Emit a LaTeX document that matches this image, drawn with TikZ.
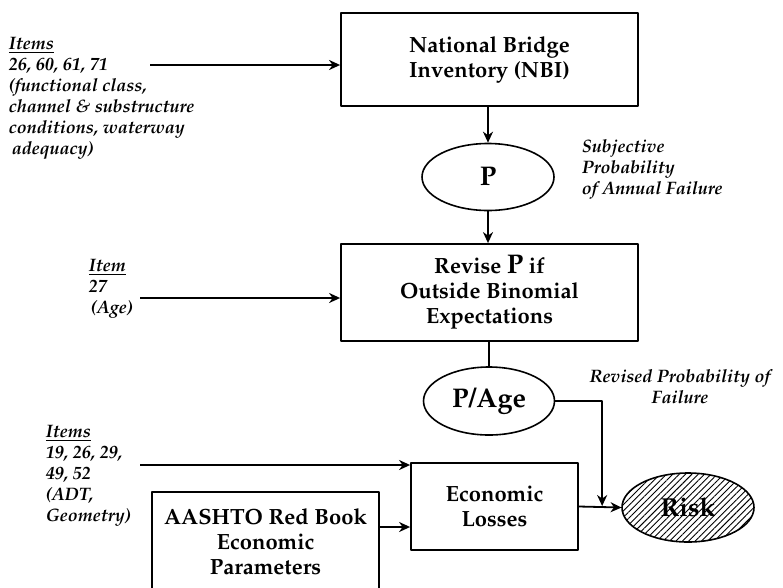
\documentclass[tikz,border=0pt]{standalone}
\usepackage[T1]{fontenc}
\usepackage{mathpazo}
\usetikzlibrary{shapes.geometric,patterns.meta,calc,arrows.meta}
\newcommand{\boxfont}{\fontsize{22}{25}\selectfont\bfseries}
\newcommand{\ovalfont}{\fontsize{27}{30}\selectfont\bfseries}
\newcommand{\notefont}{\fontsize{18}{21}\selectfont\bfseries\itshape}
\newcommand{\bigP}{{\fontsize{27}{25}\selectfont P}}
\tikzset{
	box/.style={draw, rectangle, line width=1.8pt, inner sep=0pt, align=center, font=\boxfont},
	oval/.style={draw, ellipse, line width=1.6pt, inner sep=0pt, font=\ovalfont},
	note/.style={inner sep=0pt, align=left, font=\notefont},
}
\begin{document}
\begin{tikzpicture}[x=1pt, y=-1pt, line width=1.8pt, line join=round, >={Stealth[length=11pt,width=10pt,inset=3.5pt]}]
		\useasboundingbox (0,0) rectangle (783,587);
		\node[box, minimum width=297pt, minimum height=93pt] (nbi) at (489.5,59.5) {National Bridge\\Inventory (NBI)};
		\node[oval, minimum width=132pt, minimum height=67pt] (p) at (488,177) {P};
		\node[box, minimum width=297pt, minimum height=97pt] (rev) at (489.5,292.5) {Revise \bigP{} if\\Outside Binomial\\Expectations};
		\node[oval, minimum width=131pt, minimum height=68pt] (page) at (489,401) {P/Age};
		\node[box, minimum width=167pt, minimum height=87pt] (econ) at (494.5,506.5) {Economic\\Losses};
		\node[box, minimum width=227pt, minimum height=100pt] (aashto) at (265.5,542) {AASHTO Red Book\\Economic\\Parameters};
		\node[oval, minimum width=132pt, minimum height=69pt, pattern={Lines[angle=45,distance=4.5pt,line width=0.9pt]}, font=\fontsize{26}{30}\selectfont\bfseries] (risk) at (688,507.5) {Risk};
		
		\node[note, anchor=north west] (items1) at (8,37) {\underline{Items}\\26, 60, 61, 71\\(functional class,\\channel \& substructure\\conditions, waterway\\\hspace{3pt}adequacy)};
		\node[note, anchor=north west] (items2) at (88,259) {\underline{Item}\\27\\\hspace{2pt}(Age)};
		\node[note, anchor=north west] (items3) at (45,425) {\underline{Items}\\19, 26, 29,\\49, 52\\(ADT,\\Geometry)};
		\node[note, anchor=north west] (subj) at (581,139) {Subjective\\Probability\\of Annual Failure};
		\node[note, anchor=north, align=center] (revp) at (680,369) {Revised Probability of\\Failure};
		
		\path
		(150,65) coordinate (in1)
		(140,298) coordinate (in2)
		(140,465) coordinate (in3)
		($(econ.east)!0.545!(risk.west)$) coordinate (join)
		;
		\draw[->] (in1) -- (in1 -| nbi.west);
		\draw[->] (in2) -- (in2 -| rev.west);
		\draw[->] (in3) -- (in3 -| econ.west);
		\draw[->] (p.north |- nbi.south) -- (p.north);
		\draw[->] (p.south) -- (p.south |- rev.north);
		\draw (page.north |- rev.south) -- (page.north);
		\draw[->] ([yshift=15pt]aashto.east) -- ([yshift=15pt]aashto.east -| econ.west);
		\draw[->] (econ.east) -- (risk.west);
		\draw[->] (page.east) -| ([yshift=1pt]join);
\end{tikzpicture}
\end{document}
